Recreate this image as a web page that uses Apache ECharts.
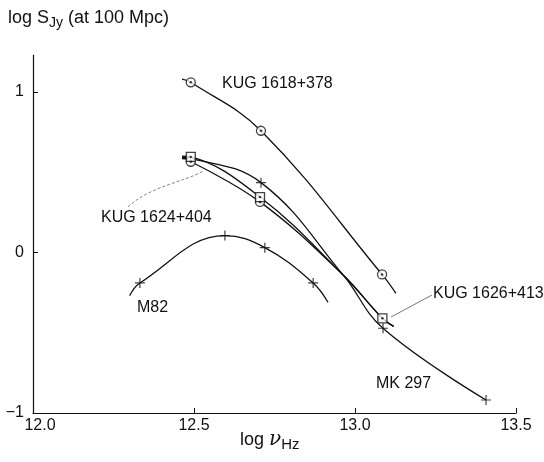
<!DOCTYPE html>
<html><head><meta charset="utf-8">
<script src="https://cdn.jsdelivr.net/npm/echarts@6/dist/echarts.min.js"></script>
<style>html,body{margin:0;padding:0;background:#fff}#c{width:544px;height:462px}</style>
</head><body><div id="c"></div>
<script>
const xTicks = [12.0, 12.5, 13.0, 13.5];
const yTicks = [-1, 0, 1];

// KUG 1618+378 (circle with dot)
const k1618LineX = [12.463, 12.49, 12.708, 13.084, 13.127];
const k1618LineY = [1.08, 1.06, 0.758, -0.137, -0.255];
const k1618PtsX = [12.49, 12.708, 13.084];
const k1618PtsY = [1.06, 0.758, -0.137];

// KUG 1624+404 (circle with dot)
const k1624LineX = [12.49, 12.705, 12.963, 13.085, 13.12];
const k1624LineY = [0.565, 0.315, -0.14, -0.41, -0.46];
const k1624PtsX = [12.49, 12.705];
const k1624PtsY = [0.565, 0.315];

// KUG 1626+413 (square with dot)
const k1626LineX = [12.463, 12.49, 12.705, 12.963, 13.085, 13.12];
const k1626LineY = [0.60, 0.595, 0.345, -0.14, -0.41, -0.46];
const k1626PtsX = [12.49, 12.705, 13.085];
const k1626PtsY = [0.595, 0.345, -0.41];

// MK 297 (plus)
const mk297LineX = [12.463, 12.49, 12.708, 12.963, 13.087, 13.407];
const mk297LineY = [0.59, 0.585, 0.435, -0.14, -0.472, -0.919];
const mk297PtsX = [12.708, 13.087, 13.407];
const mk297PtsY = [0.435, -0.472, -0.919];

// M82 (plus)
const m82LineX = [12.30, 12.332, 12.596, 12.72, 12.87, 12.916];
const m82LineY = [-0.27, -0.19, 0.105, 0.03, -0.19, -0.31];
const m82PtsX = [12.332, 12.596, 12.72, 12.87];
const m82PtsY = [-0.19, 0.105, 0.03, -0.19];

const INK = '#111';
const zip = (a, b) => a.map((v, i) => [v, b[i]]);
const plusPath = 'path://M4.4,0H5.6V4.4H10V5.6H5.6V10H4.4V5.6H0V4.4H4.4Z';

function curve(xs, ys) {
  return { type: 'line', data: zip(xs, ys), smooth: 0.4, symbol: 'none',
    lineStyle: { color: INK, width: 1.3 }, z: 2, silent: true };
}
function ring(xs, ys, sym) {
  return [
    { type: 'scatter', data: zip(xs, ys), symbol: sym, symbolSize: 9,
      itemStyle: { color: '#fff', borderColor: INK, borderWidth: 1.3 }, z: 3 },
    { type: 'scatter', data: zip(xs, ys), symbol: 'circle', symbolSize: 2.5,
      itemStyle: { color: INK }, z: 4 }
  ];
}
function plus(xs, ys) {
  return { type: 'scatter', data: zip(xs, ys), symbol: plusPath, symbolSize: 10,
    itemStyle: { color: INK }, z: 4 };
}

const chart = echarts.init(document.getElementById('c'), null, { renderer: 'canvas' });
const FONT = 'Liberation Sans';
chart.setOption({
  backgroundColor: '#fff',
  animation: false,
  textStyle: { fontFamily: FONT, color: INK },
  grid: { left: 33, right: 28, top: 55, bottom: 49 },
  xAxis: {
    type: 'value', min: 12.0, max: 13.5, interval: 0.5,
    axisLine: { show: true, onZero: false, lineStyle: { color: INK, width: 1.2 } },
    axisTick: { show: true, inside: true, length: 5, lineStyle: { color: INK }, customValues: xTicks },
    axisLabel: { fontSize: 16, color: INK, fontFamily: FONT, margin: 5, customValues: xTicks,
      formatter: v => (v === xTicks[0] ? '{first|' + v.toFixed(1) + '}' : v.toFixed(1)),
      rich: { first: { fontSize: 16, fontFamily: FONT, color: INK, padding: [0, 0, 0, 14] } } },
    splitLine: { show: false }
  },
  yAxis: {
    type: 'value', min: -1, max: 1.23, interval: 1,
    axisLine: { show: true, onZero: false, lineStyle: { color: INK, width: 1.2 } },
    axisTick: { show: true, inside: true, length: 5, lineStyle: { color: INK }, customValues: yTicks },
    axisLabel: { fontSize: 16, color: INK, fontFamily: FONT, margin: 9, customValues: yTicks,
      formatter: v => (v < 0 ? '\u2212' + Math.abs(v) : String(v)) },
    splitLine: { show: false }
  },
  series: [
    curve(k1618LineX, k1618LineY),
    curve(k1624LineX, k1624LineY),
    curve(k1626LineX, k1626LineY),
    curve(mk297LineX, mk297LineY),
    curve(m82LineX, m82LineY),
    { type: 'line', data: [[mk297LineX[0], mk297LineY[0]], [mk297LineX[1], mk297LineY[1]]],
      symbol: 'none', lineStyle: { color: INK, width: 3 }, z: 2 },
    ...ring(k1618PtsX, k1618PtsY, 'circle'),
    ...ring(k1624PtsX, k1624PtsY, 'circle'),
    ...ring(k1626PtsX, k1626PtsY, 'rect'),
    plus(mk297PtsX, mk297PtsY),
    plus(m82PtsX, m82PtsY)
  ],
  graphic: [
    { type: 'text', left: 8, top: 9, style: {
        text: 'log S{sub|Jy} (at 100 Mpc)', font: '18px ' + FONT, fill: INK,
        rich: { sub: { fontSize: 14, fontFamily: FONT, fill: INK, padding: [10, 0, 0, 0] } } } },
    { type: 'text', left: 240, top: 430, style: {
        text: 'log {nu|\u03bd}{sub|Hz}', font: '18px ' + FONT, fill: INK,
        rich: { nu: { fontSize: 20, fontStyle: 'italic', fontFamily: 'DejaVu Serif', fill: INK },
                sub: { fontSize: 15, fontFamily: FONT, fill: INK, padding: [10, 0, 0, 0] } } } },
    { type: 'text', x: 222, y: 84, style: { text: 'KUG 1618+378', font: '16px ' + FONT, fill: INK, verticalAlign: 'middle' } },
    { type: 'text', x: 101, y: 218, style: { text: 'KUG 1624+404', font: '16px ' + FONT, fill: INK, verticalAlign: 'middle' } },
    { type: 'text', x: 433, y: 294, style: { text: 'KUG 1626+413', font: '16px ' + FONT, fill: INK, verticalAlign: 'middle' } },
    { type: 'text', x: 376, y: 384, style: { text: 'MK 297', font: '16px ' + FONT, fill: INK, verticalAlign: 'middle' } },
    { type: 'text', x: 137, y: 308, style: { text: 'M82', font: '16px ' + FONT, fill: INK, verticalAlign: 'middle' } },
    { type: 'bezierCurve', shape: { x1: 128, y1: 207, cpx1: 150, cpy1: 186, cpx2: 185, cpy2: 182, x2: 203, y2: 171 },
      style: { stroke: '#666', lineWidth: 0.8, lineDash: [3, 2], fill: null } },
    { type: 'line', shape: { x1: 391, y1: 317, x2: 432, y2: 295 },
      style: { stroke: '#555', lineWidth: 0.8 } }
  ]
});
</script></body></html>
